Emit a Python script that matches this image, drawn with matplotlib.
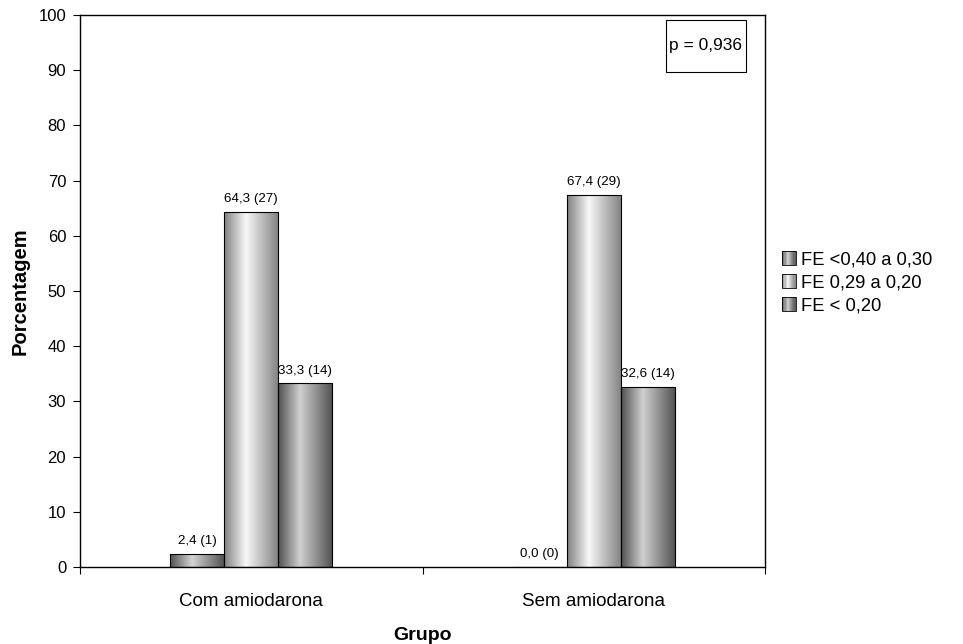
import numpy as np
import matplotlib
matplotlib.use('Agg')
import matplotlib.pyplot as plt
from matplotlib.patches import Rectangle
from matplotlib.legend_handler import HandlerBase
from matplotlib.colors import LinearSegmentedColormap

plt.rcParams['font.family'] = ['Liberation Sans', 'DejaVu Sans']

# ── data ──────────────────────────────────────────────
groups = ['Com amiodarona', 'Sem amiodarona']
series = ['FE <0,40 a 0,30', 'FE 0,29 a 0,20', 'FE < 0,20']
pct = [[2.4, 0.0], [64.3, 67.4], [33.3, 32.6]]
counts = [[1, 0], [27, 29], [14, 14]]
p_text = 'p = 0,936'

# cylinder-like shading per series (edge, centre)
shades = [('#505050', '#d4d4d4'), ('#808080', '#f8f8f8'), ('#505050', '#d0d0d0')]


def make_cmap(edge, mid):
    return LinearSegmentedColormap.from_list(
        'cyl', [(0, edge), (0.4, mid), (1, edge)])


class GradHandler(HandlerBase):
    def __init__(self, edge, mid):
        super().__init__()
        self.cmap = make_cmap(edge, mid)

    def create_artists(self, legend, orig, x0, y0, w, h, fs, trans):
        side = min(w, h)
        x0 = x0 + (w - side) / 2
        n = 12
        arts = []
        for i in range(n):
            arts.append(Rectangle((x0 + side * i / n, y0), side / n, side,
                                  facecolor=self.cmap((i + 0.5) / n),
                                  edgecolor='none', transform=trans))
        arts.append(Rectangle((x0, y0), side, side, facecolor='none',
                              edgecolor='black', lw=0.6, transform=trans))
        return arts


fig = plt.figure(figsize=(9.63, 6.44), dpi=100)
ax = fig.add_axes([0.0831, 0.1196, 0.7113, 0.8571])

x = np.arange(len(groups))
w = 0.158
offsets = [-w, 0, w]
grad = np.linspace(0, 1, 256).reshape(1, -1)

handles = []
for k in range(len(series)):
    cmap = make_cmap(*shades[k])
    bars = ax.bar(x + offsets[k], pct[k], width=w, facecolor='none',
                  edgecolor='black', linewidth=0.8, zorder=3, label=series[k])
    handles.append(bars[0])
    for b, v, c in zip(bars, pct[k], counts[k]):
        if v > 0:
            im = ax.imshow(grad, cmap=cmap, aspect='auto', zorder=2,
                           extent=[b.get_x(), b.get_x() + b.get_width(), 0, v])
            im.set_clip_path(b)
        ax.text(b.get_x() + b.get_width() / 2, v + 1.2,
                f'{v:.1f} ({c})'.replace('.', ','),
                ha='center', va='bottom', fontsize=9.6)

ax.set_xlim(-0.5, 1.5)
ax.set_ylim(0, 100)
ax.set_yticks(range(0, 101, 10))
ax.set_xticks([-0.5, 0.5, 1.5])
ax.set_xticklabels([])
ax.set_xticks(x, minor=True)
ax.set_xticklabels(groups, minor=True, fontsize=13.5)
ax.tick_params(axis='x', which='minor', length=0, pad=19)
ax.tick_params(axis='x', which='major', length=5, direction='out')
ax.tick_params(axis='y', length=5, direction='out', labelsize=12, pad=5)
for s in ax.spines.values():
    s.set_linewidth(1.0)

ax.set_ylabel('Porcentagem', fontsize=14.5, fontweight='bold', labelpad=6)
ax.set_xlabel('Grupo', fontsize=14, fontweight='bold', labelpad=12)

# p-value box
ax.add_patch(Rectangle((0.855, 0.897), 0.117, 0.094, transform=ax.transAxes,
                       facecolor='white', edgecolor='black', lw=0.8, zorder=4))
ax.text(0.913, 0.944, p_text, transform=ax.transAxes, ha='center', va='center',
        fontsize=12.5, zorder=5)

hmap = {h: GradHandler(*shades[i]) for i, h in enumerate(handles)}
fig.legend(handles, series, handler_map=hmap, loc='center left',
           bbox_to_anchor=(0.795, 0.56), frameon=False, fontsize=13.2,
           handlelength=0.75, handleheight=0.75, handletextpad=0.3,
           labelspacing=0.32)

fig.savefig('out.png', dpi=100, facecolor='white')
